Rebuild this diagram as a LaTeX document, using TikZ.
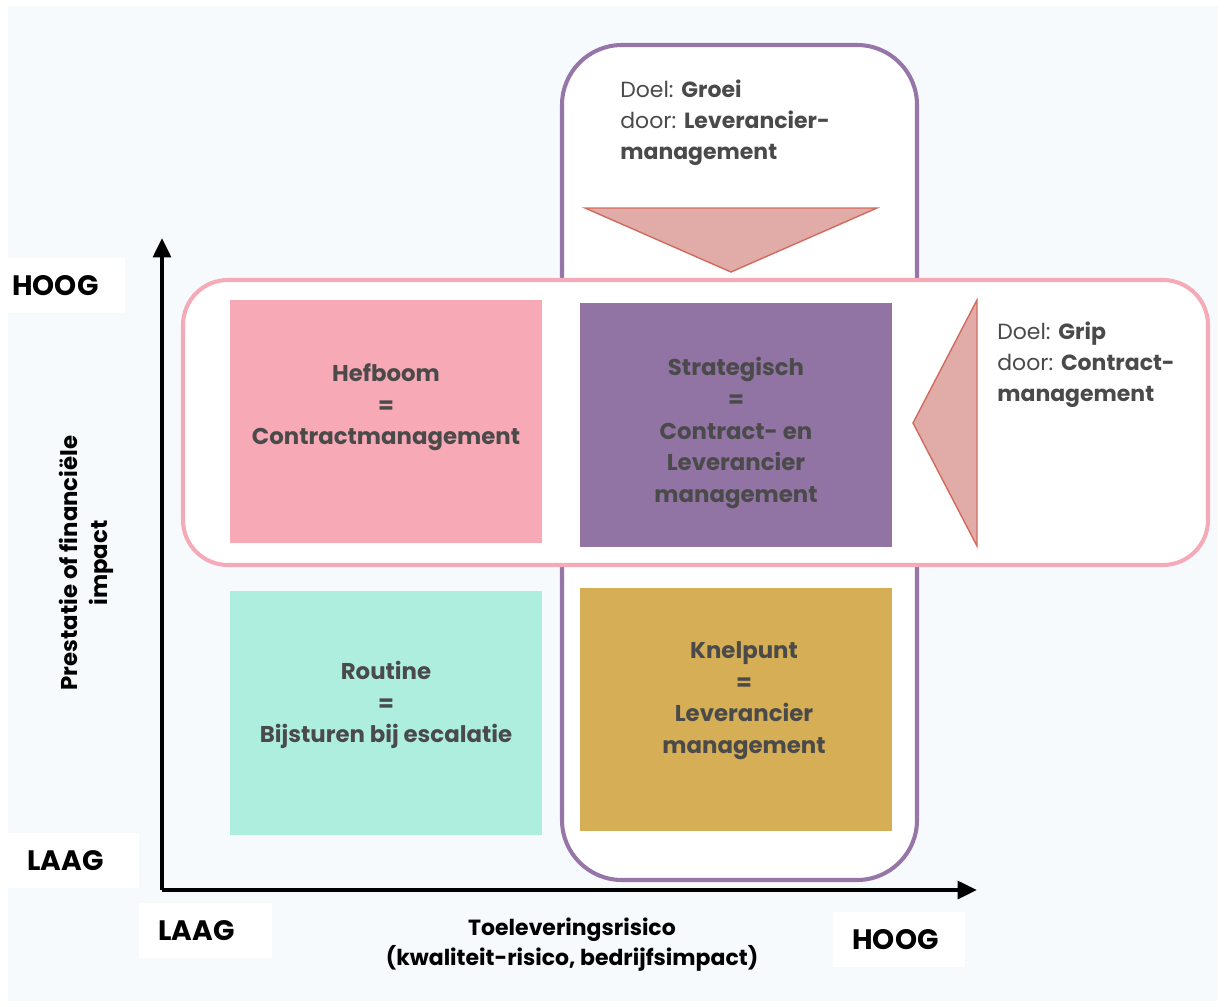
\documentclass[tikz,border=0pt]{standalone}
\usepackage{fontspec}
\setmainfont{Poppins}
\usepackage{xcolor}
\usetikzlibrary{arrows.meta}

\definecolor{bgcol}{HTML}{F7FAFC}
\definecolor{paars}{HTML}{9675A9}
\definecolor{roze}{HTML}{F5AAB7}
\definecolor{hefboomcol}{HTML}{F7A9B6}
\definecolor{strategischcol}{HTML}{9173A4}
\definecolor{routinecol}{HTML}{AEEEDF}
\definecolor{knelpuntcol}{HTML}{D5AE55}
\definecolor{pijlfill}{HTML}{E1ACA8}
\definecolor{pijlrand}{HTML}{D26A5E}
\definecolor{tekst}{HTML}{4A4A4A}

\tikzset{
  kwadrant/.style={minimum width=6.24cm, minimum height=4.88cm, inner sep=0pt},
  kwtekst/.style={align=center, text=tekst, inner sep=0pt,
    font=\fontsize{13}{18}\selectfont\bfseries},
  aslabel/.style={fill=white, anchor=north west, minimum height=1.1cm, align=left,
    inner xsep=0.38cm, font=\fontsize{16}{19}\selectfont\bfseries, text=black},
  doeltekst/.style={anchor=north west, align=left, text=tekst, inner sep=0pt,
    font=\fontsize{12.5}{17.5}\selectfont},
  pijl/.style={fill=pijlfill, draw=pijlrand, line width=0.8pt, line join=miter},
}

\begin{document}
\begin{tikzpicture}[x=0.02cm, y=-0.02cm]
    % canvas
    \useasboundingbox (0,0) rectangle (1224,1007);
    \fill[white] (0,0) rectangle (1224,1007);
    \fill[bgcol] (8,6) rectangle (1218,1001);

    % label boxes
    \node[aslabel, inner xsep=0.08cm, text width=2.18cm] (hoogy) at (8,258) {HOOG};
    \node[aslabel, text width=1.86cm] (laagy) at (8,833) {LAAG};
    \node[aslabel, text width=1.90cm] (laagx) at (139,903) {LAAG};
    \node[aslabel, text width=1.88cm] (hoogx) at (833,912) {HOOG};

    % purple column
    \draw[paars, line width=2.3pt, fill=white, rounded corners=1.2cm]
        (562,45) rectangle (917,880);

    % pink row
    \draw[roze, line width=2.3pt, fill=white, rounded corners=0.9cm]
        (183,280) rectangle (1208,565);

    % quadrants
    \node[kwadrant, fill=hefboomcol, minimum height=4.86cm] (hefboom) at (386,421.5) {};
    \node[kwadrant, fill=strategischcol] (strategisch) at (736,425) {};
    \node[kwadrant, fill=routinecol] (routine) at (386,713) {};
    \node[kwadrant, fill=knelpuntcol] (knelpunt) at (736,709.5) {};

    \node[kwtekst, yshift=0.28cm] (hefboomtekst) at (hefboom)
        {Hefboom\\=\\Contractmanagement};
    \node[kwtekst, yshift=-0.16cm] (strategischtekst) at (strategisch)
        {Strategisch\\=\\Contract- en\\Leverancier\\management};
    \node[kwtekst, yshift=0.16cm] (routinetekst) at (routine)
        {Routine\\=\\Bijsturen bij escalatie};
    \node[kwtekst, xshift=0.16cm, yshift=0.18cm] (knelpunttekst) at (knelpunt)
        {Knelpunt\\=\\Leverancier\\management};

    % arrows of the goals
    \draw[pijl] (585,208) -- (877,208) -- (731,272) -- cycle;
    \draw[pijl] (977,300) -- (977,546) -- (913,423) -- cycle;

    % goal texts
    \node[doeltekst] (groei) at (620,80)
        {Doel: \textbf{Groei}\\door: \textbf{Leverancier-}\\\textbf{management}};
    \node[doeltekst] (grip) at (997,322)
        {Doel: \textbf{Grip}\\door: \textbf{Contract-}\\\textbf{management}};

    % axes
    \coordinate (origin) at (162,890);
    \coordinate (ytop) at (162,238);
    \coordinate (xend) at (977,890);
    \draw[line width=2.3pt, -{Triangle[length=11pt, width=10pt]}] (origin) -- (ytop);
    \draw[line width=2.3pt, -{Triangle[length=11pt, width=10pt]}] (origin) -- (xend);

    % axis titles
    \node[rotate=90, align=center, font=\fontsize{13}{17}\selectfont\bfseries] (ytitel)
        at (86,563) {Prestatie of financiële\\impact};
    \node[align=center, font=\fontsize{12.5}{17}\selectfont\bfseries] (xtitel)
        at (572,945) {Toeleveringsrisico\\(kwaliteit-risico, bedrijfsimpact)};
\end{tikzpicture}
\end{document}
